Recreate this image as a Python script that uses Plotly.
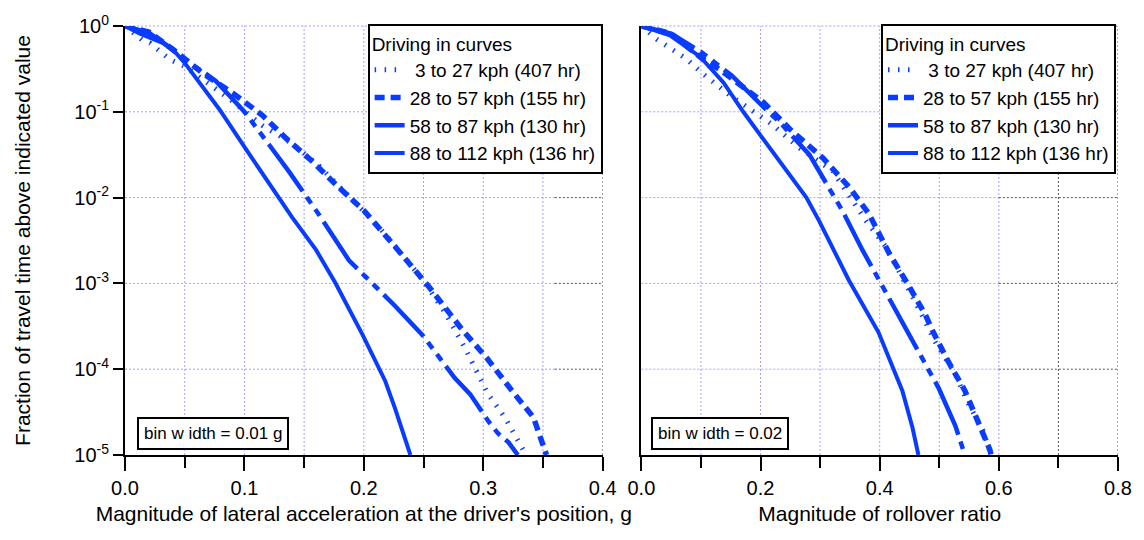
import plotly.graph_objects as go

# ---------------- data ----------------
series_names = ["\u00a03 to 27 kph (407 hr)", "28 to 57 kph (155 hr)",
                "58 to 87 kph (130 hr)", "88 to 112 kph (136 hr)"]

# Left panel: lateral acceleration (g); y stored as log10(fraction)
lat_x_3_27 = [0.0, 0.008, 0.015, 0.021, 0.029, 0.0375, 0.05, 0.065, 0.0875, 0.115, 0.14, 0.1625,
              0.196, 0.2125, 0.23, 0.249, 0.268, 0.285, 0.304, 0.318, 0.336]
lat_log_3_27 = [0.0, -0.09, -0.17, -0.2, -0.3, -0.39, -0.47, -0.62, -0.85, -1.16, -1.37, -1.63,
                -2.11, -2.34, -2.63, -2.95, -3.34, -3.76, -4.29, -4.56, -5.0]

lat_x_28_57 = [0.0, 0.02, 0.04, 0.05, 0.065, 0.09, 0.115, 0.135, 0.157, 0.179, 0.2, 0.2236,
               0.243, 0.254, 0.283, 0.303, 0.324, 0.342, 0.351, 0.353]
lat_log_28_57 = [0.0, -0.07, -0.27, -0.39, -0.55, -0.78, -1.04, -1.31, -1.58, -1.88, -2.15, -2.53,
                 -2.84, -3.03, -3.55, -3.87, -4.25, -4.56, -4.92, -5.0]

lat_x_58_87 = [0.0, 0.02, 0.04, 0.05, 0.065, 0.076, 0.1, 0.1125, 0.121, 0.1375, 0.1625, 0.1875,
               0.226, 0.249, 0.276, 0.289, 0.304, 0.3125, 0.321, 0.329]
lat_log_58_87 = [0.0, -0.08, -0.27, -0.4, -0.53, -0.64, -1.0, -1.22, -1.39, -1.70, -2.2, -2.73,
                 -3.26, -3.6, -4.1, -4.29, -4.6, -4.75, -4.85, -5.0]

lat_x_88_112 = [0.0, 0.0125, 0.032, 0.043, 0.05, 0.065, 0.079, 0.101, 0.121, 0.14, 0.16, 0.176,
                0.199, 0.218, 0.226, 0.239]
lat_log_88_112 = [0.0, -0.09, -0.2, -0.32, -0.43, -0.7, -0.97, -1.43, -1.85, -2.23, -2.61, -2.99,
                  -3.6, -4.14, -4.45, -5.0]

# Right panel: rollover ratio
rol_x_3_27 = [0.0, 0.027, 0.077, 0.102, 0.149, 0.188, 0.218, 0.265, 0.321, 0.377, 0.41, 0.46,
              0.493, 0.527, 0.548, 0.573, 0.587]
rol_log_3_27 = [0.0, -0.16, -0.39, -0.55, -0.81, -1.0, -1.14, -1.42, -1.69, -2.27, -2.57, -3.22,
                -3.68, -4.06, -4.39, -4.71, -5.0]

rol_x_28_57 = [0.0, 0.05, 0.104, 0.132, 0.205, 0.249, 0.305, 0.349, 0.382, 0.416, 0.449, 0.477,
               0.49, 0.515, 0.543, 0.565, 0.585, 0.587]
rol_log_28_57 = [0.0, -0.09, -0.39, -0.51, -0.89, -1.2, -1.54, -1.88, -2.19, -2.65, -3.03, -3.37,
                 -3.57, -3.91, -4.25, -4.6, -4.94, -5.0]

rol_x_58_87 = [0.0, 0.05, 0.1, 0.152, 0.213, 0.232, 0.282, 0.324, 0.338, 0.371, 0.402, 0.415,
               0.455, 0.481, 0.499, 0.527, 0.543]
rol_log_58_87 = [0.0, -0.09, -0.3, -0.58, -1.0, -1.12, -1.5, -2.0, -2.16, -2.61, -3.0, -3.19,
                 -3.68, -4.0, -4.22, -4.66, -5.0]

rol_x_88_112 = [0.0, 0.048, 0.099, 0.138, 0.171, 0.198, 0.249, 0.277, 0.299, 0.348, 0.398, 0.423,
                0.438, 0.455, 0.465]
rol_log_88_112 = [0.0, -0.11, -0.36, -0.66, -1.0, -1.25, -1.73, -2.0, -2.28, -2.96, -3.57, -4.0,
                  -4.25, -4.68, -5.0]

y_tick_exps = [0, -1, -2, -3, -4, -5]
left_x_ticks = [0.0, 0.1, 0.2, 0.3, 0.4]
left_x_minor = [0.05, 0.15, 0.25, 0.35]
right_x_ticks = [0.0, 0.2, 0.4, 0.6, 0.8]
right_x_minor = [0.1, 0.3, 0.5, 0.7]

# ---------------- styling ----------------
BLUE = "#0a3cff"
styles = [
    dict(color=BLUE, width=5, dash="1.5px,8.5px"),
    dict(color=BLUE, width=5.5, dash="10px,6px"),
    dict(color=BLUE, width=4.5, dash="58px,7px,8px,7px,8px,7px"),
    dict(color=BLUE, width=4, dash="solid"),
]
FONT = "Liberation Sans, Arial, sans-serif"
LAV = "#a3a3ff"
GRAY = "#555555"
Y_MIN, Y_MAX = -5, 0

fig = go.Figure()
left = [(lat_x_3_27, lat_log_3_27), (lat_x_28_57, lat_log_28_57),
        (lat_x_58_87, lat_log_58_87), (lat_x_88_112, lat_log_88_112)]
right = [(rol_x_3_27, rol_log_3_27), (rol_x_28_57, rol_log_28_57),
         (rol_x_58_87, rol_log_58_87), (rol_x_88_112, rol_log_88_112)]

for (xs, ls), name, st in zip(left, series_names, styles):
    fig.add_trace(go.Scatter(x=xs, y=[10 ** v for v in ls], mode="lines", name=name,
                             line=st, xaxis="x", yaxis="y", legend="legend"))
for (xs, ls), name, st in zip(right, series_names, styles):
    fig.add_trace(go.Scatter(x=xs, y=[10 ** v for v in ls], mode="lines", name=name,
                             line=st, xaxis="x2", yaxis="y2", legend="legend2"))

# ---------------- grid (two-tone dotted, as in the reference) ----------------
shapes = []
def grid(xref, yref, xgrid, xmax, split):
    for v in xgrid:
        col = LAV if v <= split + 1e-9 else GRAY
        shapes.append(dict(type="line", xref=xref, yref=yref + " domain", x0=v, x1=v, y0=0, y1=1,
                           line=dict(color=col, width=1, dash="2px,2px"), layer="below"))
    for e in y_tick_exps[:-1]:
        f = (e - Y_MIN) / (Y_MAX - Y_MIN)
        shapes.append(dict(type="line", xref=xref, yref=yref + " domain", x0=0, x1=split,
                           y0=f, y1=f, line=dict(color=LAV, width=1, dash="2px,2px"),
                           layer="below"))
        shapes.append(dict(type="line", xref=xref, yref=yref + " domain", x0=split, x1=xmax,
                           y0=f, y1=f, line=dict(color=GRAY, width=1, dash="2px,2px"),
                           layer="below"))

grid("x", "y", left_x_minor + left_x_ticks[1:], 0.4, 0.36)
grid("x2", "y2", right_x_minor + right_x_ticks[1:], 0.8, 0.6)

axis_common = dict(showline=True, linewidth=2, linecolor="black", ticks="outside",
                   tickwidth=2, tickcolor="black", showgrid=False, zeroline=False,
                   tickfont=dict(size=20, color="black", family=FONT))

ytext = ["10<sup>%d</sup>" % e for e in y_tick_exps]
yvals = [10 ** e for e in y_tick_exps]

legend_common = dict(bgcolor="white", bordercolor="black", borderwidth=2,
                     font=dict(size=19, color="black", family=FONT),
                     title=dict(text="Driving in curves", font=dict(size=19, family=FONT)),
                     xanchor="right", yanchor="top", itemclick=False, tracegroupgap=0,
                     entrywidthmode="pixels", entrywidth=225)

fig.update_layout(
    width=1144, height=540,
    margin=dict(l=125, r=21, t=19, b=85),
    paper_bgcolor="white", plot_bgcolor="white",
    font=dict(family=FONT, color="black"),
    xaxis=dict(domain=[0, 0.481], range=[0, 0.4], anchor="y",
               tickvals=left_x_ticks, ticktext=["%.1f" % v for v in left_x_ticks], ticklen=14,
               minor=dict(tickvals=left_x_minor, ticks="outside", ticklen=11, tickwidth=2,
                          tickcolor="black", showgrid=False),
               title=dict(text="Magnitude of lateral acceleration at the driver's position, g",
                          font=dict(size=21), standoff=8),
               **axis_common),
    xaxis2=dict(domain=[0.52, 1], range=[0, 0.8], anchor="y2",
                tickvals=right_x_ticks, ticktext=["%.1f" % v for v in right_x_ticks], ticklen=14,
                minor=dict(tickvals=right_x_minor, ticks="outside", ticklen=11, tickwidth=2,
                           tickcolor="black", showgrid=False),
                title=dict(text="Magnitude of rollover ratio", font=dict(size=21), standoff=8),
                **axis_common),
    yaxis=dict(type="log", range=[Y_MIN, Y_MAX], anchor="x", tickvals=yvals, ticktext=ytext,
               ticklen=10,
               title=dict(text="Fraction of travel time above indicated value",
                          font=dict(size=21), standoff=38),
               **axis_common),
    yaxis2=dict(type="log", range=[Y_MIN, Y_MAX], anchor="x2", matches="y", showline=True,
                linewidth=2, linecolor="black", ticks="", showticklabels=False,
                showgrid=False, zeroline=False),
    legend=dict(x=0.481, y=1.004, **legend_common),
    legend2=dict(x=0.998, y=1.004, **legend_common),
    shapes=shapes,
    annotations=[
        dict(text="bin w idth = 0.01 g", xref="x domain", yref="y domain", x=0.025, y=0.012,
             xanchor="left", yanchor="bottom", showarrow=False, bgcolor="white",
             bordercolor="black", borderwidth=2, borderpad=5,
             font=dict(size=17, color="black", family=FONT)),
        dict(text="bin w idth = 0.02", xref="x2 domain", yref="y2 domain", x=0.02, y=0.012,
             xanchor="left", yanchor="bottom", showarrow=False, bgcolor="white",
             bordercolor="black", borderwidth=2, borderpad=5,
             font=dict(size=17, color="black", family=FONT)),
    ],
    showlegend=True,
)

fig.write_html("out.html", config={"displayModeBar": False},
               post_script="document.body.style.margin='0px';")
